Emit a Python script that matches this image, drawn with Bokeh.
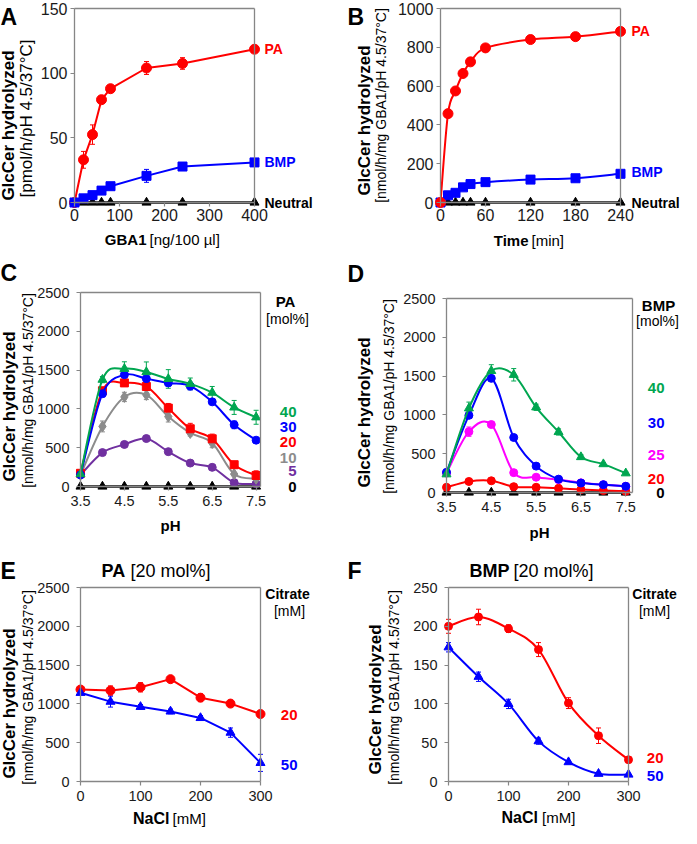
import numpy as np
from bokeh.plotting import figure
from bokeh.models import Range1d, LinearAxis, FixedTicker, Label, Whisker, TeeHead, ColumnDataSource
from bokeh.layouts import column, row
from bokeh.embed import file_html
from bokeh.resources import INLINE

FONT = "Liberation Sans"
RED = "#FF0000"
BLUE = "#0000FF"
GREEN = "#00A650"
GRAY = "#8C8C8C"
PURPLE = "#7030A0"
MAGENTA = "#FF00FF"
BLACK = "#000000"
AXC = "#868686"

# ---------------- data ----------------
# Panel A: GBA1 amount
gba1_ng = [0, 20, 40, 60, 80, 160, 240, 400]
a_pa = [0, 33, 52.5, 79.5, 88, 104, 107.5, 118.5]
a_pa_err = [0, 6.5, 7.5, 2, 2.5, 5, 4.5, 1.5]
a_bmp = [0, 3.2, 5.7, 9.2, 12.6, 20.6, 27.8, 31]
a_bmp_err = [0, 1, 1, 1.5, 2, 5, 1.5, 1]
a_neutral = [0, 0, 0, 0, 0, 0, 0, 0]
a_xticks = [0, 100, 200, 300, 400]
a_yticks = [0, 50, 100, 150]

# Panel B: time course
time_min = [0, 10, 20, 30, 40, 60, 120, 180, 240]
b_pa = [0, 458, 575, 665, 725, 797, 840, 855, 882]
b_bmp = [0, 37, 50, 78, 95, 105, 118, 125, 148]
b_neutral = [0, 0, 0, 0, 0, 0, 0, 0, 0]
b_xticks = [0, 60, 120, 180, 240]
b_yticks = [0, 200, 400, 600, 800, 1000]

# Panel C: pH profile with PA
ph = [3.5, 4.0, 4.5, 5.0, 5.5, 6.0, 6.5, 7.0, 7.5]
c_pa40 = [160, 1377, 1517, 1475, 1386, 1323, 1209, 1019, 892]
c_pa40_err = [20, 40, 90, 130, 120, 75, 80, 90, 90]
c_pa30 = [150, 1196, 1441, 1390, 1335, 1294, 1091, 795, 597]
c_pa30_err = [20, 40, 30, 30, 40, 50, 30, 50, 30]
c_pa20 = [170, 1234, 1335, 1289, 1010, 744, 615, 281, 142]
c_pa20_err = [20, 30, 40, 30, 60, 70, 60, 40, 60]
c_pa10 = [150, 774, 1154, 1180, 901, 690, 560, 160, 100]
c_pa10_err = [20, 70, 60, 60, 70, 40, 60, 20, 20]
c_pa5 = [150, 437, 542, 618, 449, 302, 247, 50, 35]
c_pa5_err = [10, 20, 20, 20, 20, 20, 20, 10, 10]
c_pa0 = [0, 0, 0, 0, 0, 0, 0, 0, 0]

# Panel D: pH profile with BMP
d_bmp40 = [235, 1085, 1567, 1517, 1098, 780, 457, 366, 248]
d_bmp40_err = [20, 80, 80, 80, 40, 40, 30, 20, 20]
d_bmp30 = [260, 994, 1471, 709, 340, 172, 122, 101, 80]
d_bmp30_err = [20, 30, 30, 30, 20, 20, 10, 10, 10]
d_bmp25 = [250, 784, 876, 256, 197, 165, 125, 100, 80]
d_bmp25_err = [20, 60, 30, 30, 20, 10, 10, 10, 10]
d_bmp20 = [67, 142, 151, 75, 67, 54, 38, 25, 16]
d_bmp20_err = [10, 15, 15, 10, 10, 5, 5, 5, 5]
d_bmp0 = [0, 0, 0, 0, 0, 0, 0, 0, 0]
ph_ticks = [3.5, 4.5, 5.5, 6.5, 7.5]
cd_yticks = [0, 500, 1000, 1500, 2000, 2500]

# Panel E: NaCl, PA 20 mol%
nacl = [0, 50, 100, 150, 200, 250, 300]
e_cit20 = [1185, 1172, 1214, 1319, 1080, 1004, 870]
e_cit20_err = [40, 60, 60, 30, 50, 40, 20]
e_cit50 = [1143, 1029, 962, 903, 819, 630, 240]
e_cit50_err = [20, 70, 30, 30, 30, 60, 110]

# Panel F: NaCl, BMP 20 mol%
f_cit20 = [200, 212, 197, 170, 101, 59, 28]
f_cit20_err = [9, 10, 5, 9, 7, 10, 2]
f_cit50 = [173, 135, 100, 52, 25, 10, 9]
f_cit50_err = [6, 6, 6, 4, 2, 1, 1]
ef_xticks = [0, 100, 200, 300]
f_yticks = [0, 50, 100, 150, 200, 250]

# ---------------- layout helpers ----------------
LEFT_W, RIGHT_W = 340, 341
ROWS = [255, 293, 280]


def style_axis(ax, size, standoff):
    ax.axis_line_color = AXC
    ax.axis_line_width = 1.3
    ax.major_tick_line_color = AXC
    ax.major_tick_line_width = 1.2
    ax.major_tick_out = 4
    ax.major_tick_in = 0
    ax.minor_tick_line_color = None
    ax.major_label_text_font = FONT
    ax.major_label_text_font_size = size
    ax.major_label_text_color = "#1a1a1a"
    ax.major_label_standoff = standoff


def panel(box, col_w, row_h, xlim, ylim, xticks, yticks, tick_size="14.5px", xs=5, ys=7):
    # box = data-box position inside the figure (left, top, width, height in px)
    L, T, W, H = box
    x0, x1 = xlim
    y0, y1 = ylim
    sx = (x1 - x0) / W
    sy = (y1 - y0) / H
    p = figure(frame_width=col_w, frame_height=row_h,
               x_range=Range1d(x0 - L * sx, x0 + (col_w - L) * sx),
               y_range=Range1d(y1 - (row_h - T) * sy, y1 + T * sy),
               x_axis_location=None, y_axis_location=None,
               output_backend="svg", toolbar_location=None,
               min_border_left=0, min_border_right=0, min_border_top=0, min_border_bottom=0)
    p.outline_line_color = None
    p.grid.visible = False
    p.background_fill_color = "white"
    p.border_fill_color = "white"

    xa = LinearAxis(ticker=FixedTicker(ticks=xticks), fixed_location=y0, bounds=(x0, x1))
    style_axis(xa, tick_size, xs)
    p.add_layout(xa, "below")
    ya = LinearAxis(ticker=FixedTicker(ticks=yticks), fixed_location=x0, bounds=(y0, y1))
    style_axis(ya, tick_size, ys)
    p.add_layout(ya, "left")
    ra = LinearAxis(ticker=FixedTicker(ticks=[]), fixed_location=x1, bounds=(y0, y1))
    style_axis(ra, "0px", 0)
    ra.major_tick_out = 0
    p.add_layout(ra, "right")
    ta = LinearAxis(ticker=FixedTicker(ticks=[]), fixed_location=y1, bounds=(x0, x1))
    style_axis(ta, "0px", 0)
    ta.major_tick_out = 0
    p.add_layout(ta, "above")
    info = dict(x0=x0, x1=x1, y1=y1, sx=sx, sy=sy, H=H)
    return p, info


def txt(p, info, text, dx, dy, size, bold=False, color=BLACK, align="left",
        baseline="middle", angle=0.0, ref="L", ydata=None):
    if ref == "L":
        xb = info["x0"]
    elif ref == "R":
        xb = info["x1"]
    else:
        xb = (info["x0"] + info["x1"]) / 2
    x = xb + dx * info["sx"]
    y = ydata if ydata is not None else info["y1"] - dy * info["sy"]
    p.add_layout(Label(x=x, y=y, text=text, text_font=FONT, text_font_size=f"{size}px",
                       text_font_style="bold" if bold else "normal", text_color=color,
                       text_align=align, text_baseline=baseline, angle=angle))


def bezier_parts(x, y):
    x = np.asarray(x, float)
    y = np.asarray(y, float)
    xp = np.concatenate([x[:1], x, x[-1:]])
    yp = np.concatenate([y[:1], y, y[-1:]])
    return dict(
        x0=xp[1:-2], y0=yp[1:-2], x1=xp[2:-1], y1=yp[2:-1],
        cx0=xp[1:-2] + (xp[2:-1] - xp[:-3]) / 6, cy0=yp[1:-2] + (yp[2:-1] - yp[:-3]) / 6,
        cx1=xp[2:-1] - (xp[3:] - xp[1:-2]) / 6, cy1=yp[2:-1] - (yp[3:] - yp[1:-2]) / 6)


def series(p, x, y, color, marker, size, err=None, smooth=False, lw=2.0):
    if err is not None:
        ya = np.asarray(y, float)
        ea = np.asarray(err, float)
        src = ColumnDataSource(dict(x=list(x), lo=ya - ea, hi=ya + ea))
        w = Whisker(source=src, base="x", lower="lo", upper="hi", line_color=color, line_width=1,
                    lower_head=TeeHead(size=5, line_color=color, line_width=1),
                    upper_head=TeeHead(size=5, line_color=color, line_width=1))
        w.level = "underlay"
        p.add_layout(w)
    if smooth:
        p.bezier(source=ColumnDataSource(bezier_parts(x, y)), x0="x0", y0="y0", x1="x1", y1="y1",
                 cx0="cx0", cy0="cy0", cx1="cx1", cy1="cy1", line_color=color, line_width=lw)
    else:
        p.line(x, y, line_color=color, line_width=lw)
    p.scatter(x, y, marker=marker, size=size, fill_color=color, line_color=color)


def ylabels(p, info, dxb, dyb, sb, dxn, dyn, sn, unit):
    txt(p, info, "GlcCer hydrolyzed", dxb, dyb, sb, bold=True, align="center", angle=np.pi / 2)
    txt(p, info, unit, dxn, dyn, sn, align="center", angle=np.pi / 2)


UNIT = "[nmol/h/mg GBA1/pH 4.5/37°C]"

# ---------------- Panel A ----------------
pA, iA = panel((74, 8, 180, 194), LEFT_W, ROWS[0], (0, 400), (0, 150), a_xticks, a_yticks,
               tick_size="16px", xs=2, ys=3)
series(pA, gba1_ng, a_neutral, BLACK, "triangle", 9, lw=2.5)
series(pA, gba1_ng, a_pa, RED, "circle", 10, err=a_pa_err)
series(pA, gba1_ng, a_bmp, BLUE, "square", 9, err=a_bmp_err)
txt(pA, iA, "A", -74, 8, 23, bold=True)
ylabels(pA, iA, -66, 117, 17, -48, 110, 17, "[pmol/h/pH 4.5/37°C]")
txt(pA, iA, "GBA1", -18, iA["H"] + 37, 15, bold=True, align="right", ref="C")
txt(pA, iA, "[ng/100 µl]", -15, iA["H"] + 37, 15, align="left", ref="C")
txt(pA, iA, "PA", 10, 0, 14, bold=True, color=RED, ref="R", ydata=a_pa[-1])
txt(pA, iA, "BMP", 10, 0, 14, bold=True, color=BLUE, ref="R", ydata=a_bmp[-1])
txt(pA, iA, "Neutral", 10, 0, 14, bold=True, color=BLACK, ref="R", ydata=a_neutral[-1])

# ---------------- Panel B ----------------
pB, iB = panel((100, 8, 180, 194), RIGHT_W, ROWS[0], (0, 240), (0, 1000), b_xticks, b_yticks,
               tick_size="16px", xs=2, ys=3)
series(pB, time_min, b_neutral, BLACK, "triangle", 9, lw=2.5)
series(pB, time_min, b_bmp, BLUE, "square", 9, smooth=True)
series(pB, time_min, b_pa, RED, "circle", 10, smooth=True)
txt(pB, iB, "B", -93, 8, 23, bold=True)
ylabels(pB, iB, -76, 112, 17, -60, 97, 14, UNIT)
txt(pB, iB, "Time", -2, iB["H"] + 38, 15, bold=True, align="right", ref="C")
txt(pB, iB, "[min]", 1, iB["H"] + 38, 15, align="left", ref="C")
txt(pB, iB, "PA", 11, 0, 14, bold=True, color=RED, ref="R", ydata=b_pa[-1])
txt(pB, iB, "BMP", 11, 0, 14, bold=True, color=BLUE, ref="R", ydata=158)
txt(pB, iB, "Neutral", 11, 0, 14, bold=True, color=BLACK, ref="R", ydata=0)

# ---------------- Panel C ----------------
pC, iC = panel((80, 37, 180, 194), LEFT_W, ROWS[1], (3.5, 7.6), (0, 2500), ph_ticks, cd_yticks)
series(pC, ph, c_pa0, BLACK, "triangle", 9, lw=2.5)
series(pC, ph, c_pa5, PURPLE, "circle", 8, err=c_pa5_err, smooth=True)
series(pC, ph, c_pa10, GRAY, "diamond", 11, err=c_pa10_err, smooth=True)
series(pC, ph, c_pa20, RED, "square", 8, err=c_pa20_err, smooth=True)
series(pC, ph, c_pa30, BLUE, "circle", 8, err=c_pa30_err, smooth=True)
series(pC, ph, c_pa40, GREEN, "triangle", 9, err=c_pa40_err, smooth=True)
txt(pC, iC, "C", -80, -20, 23, bold=True)
ylabels(pC, iC, -71, 114, 17, -53, 98, 14, UNIT)
txt(pC, iC, "pH", 0, iC["H"] + 39, 15, bold=True, align="center", ref="C")
txt(pC, iC, "PA", 25, 9, 15, bold=True, align="center", ref="R")
txt(pC, iC, "[mol%]", 27, 26, 14, align="center", ref="R")
for lab, yv, col in [("40", 955, GREEN), ("30", 766, BLUE), ("20", 576, RED),
                     ("10", 373, GRAY), ("5", 196, PURPLE), ("0", 0, BLACK)]:
    txt(pC, iC, lab, 36, 0, 15, bold=True, color=col, align="right", ref="R", ydata=yv)

# ---------------- Panel D ----------------
pD, iD = panel((106, 43, 186, 194), RIGHT_W, ROWS[1], (3.5, 7.65), (0, 2500), ph_ticks, cd_yticks)
series(pD, ph, d_bmp0, BLACK, "triangle", 9, lw=2.5)
series(pD, ph, d_bmp20, RED, "circle", 8, err=d_bmp20_err, smooth=True)
series(pD, ph, d_bmp25, MAGENTA, "circle", 8, err=d_bmp25_err, smooth=True)
series(pD, ph, d_bmp30, BLUE, "circle", 8, err=d_bmp30_err, smooth=True)
series(pD, ph, d_bmp40, GREEN, "triangle", 9, err=d_bmp40_err, smooth=True)
txt(pD, iD, "D", -99, -25, 23, bold=True)
ylabels(pD, iD, -82, 114, 17, -58, 98, 14, UNIT)
txt(pD, iD, "pH", 0, iD["H"] + 40, 15, bold=True, align="center", ref="C")
txt(pD, iD, "BMP", 26, 7, 15, bold=True, align="center", ref="R")
txt(pD, iD, "[mol%]", 25, 22, 14, align="center", ref="R")
for lab, yv, col in [("40", 1349, GREEN), ("30", 900, BLUE), ("25", 482, MAGENTA),
                     ("20", 180, RED), ("0", 0, BLACK)]:
    txt(pD, iD, lab, 32, 0, 15, bold=True, color=col, align="right", ref="R", ydata=yv)

# ---------------- Panel E ----------------
pE, iE = panel((80, 39, 180, 194), LEFT_W, ROWS[2], (0, 300), (0, 2500), ef_xticks, cd_yticks)
series(pE, nacl, e_cit20, RED, "circle", 9, err=e_cit20_err)
series(pE, nacl, e_cit50, BLUE, "triangle", 9, err=e_cit50_err)
txt(pE, iE, "E", -80, -17, 23, bold=True)
txt(pE, iE, "PA", 21, -17, 18, bold=True)
txt(pE, iE, "[20 mol%]", 50, -17, 18)
ylabels(pE, iE, -71, 116, 17, -53, 100, 14, UNIT)
txt(pE, iE, "NaCl", -1, iE["H"] + 37, 16, bold=True, align="right", ref="C")
txt(pE, iE, "[mM]", 2, iE["H"] + 37, 15, align="left", ref="C")
txt(pE, iE, "Citrate", 27, 6, 14, bold=True, align="center", ref="R")
txt(pE, iE, "[mM]", 29, 23, 14, align="center", ref="R")
txt(pE, iE, "20", 37, 0, 15, bold=True, color=RED, align="right", ref="R", ydata=856)
txt(pE, iE, "50", 37, 0, 15, bold=True, color=BLUE, align="right", ref="R", ydata=219)

# ---------------- Panel F ----------------
pF, iF = panel((108, 39, 180, 194), RIGHT_W, ROWS[2], (0, 300), (0, 250), ef_xticks, f_yticks)
series(pF, nacl, f_cit20, RED, "circle", 8, err=f_cit20_err, smooth=True)
series(pF, nacl, f_cit50, BLUE, "triangle", 9, err=f_cit50_err, smooth=True)
txt(pF, iF, "F", -101, -17, 23, bold=True)
txt(pF, iF, "BMP", 21, -17, 18, bold=True)
txt(pF, iF, "[20 mol%]", 65, -17, 18)
ylabels(pF, iF, -73, 112, 17, -55, 100, 14, UNIT)
txt(pF, iF, "NaCl", -0.5, iF["H"] + 36, 16, bold=True, align="right", ref="C")
txt(pF, iF, "[mM]", 3.5, iF["H"] + 36, 15, align="left", ref="C")
txt(pF, iF, "Citrate", 26, 6, 14, bold=True, align="center", ref="R")
txt(pF, iF, "[mM]", 26, 23, 14, align="center", ref="R")
txt(pF, iF, "20", 35, 0, 15, bold=True, color=RED, align="right", ref="R", ydata=30)
txt(pF, iF, "50", 35, 0, 15, bold=True, color=BLUE, align="right", ref="R", ydata=7)

layout = column(row(pA, pB), row(pC, pD), row(pE, pF))
open("out.html", "w").write(file_html(layout, INLINE))
